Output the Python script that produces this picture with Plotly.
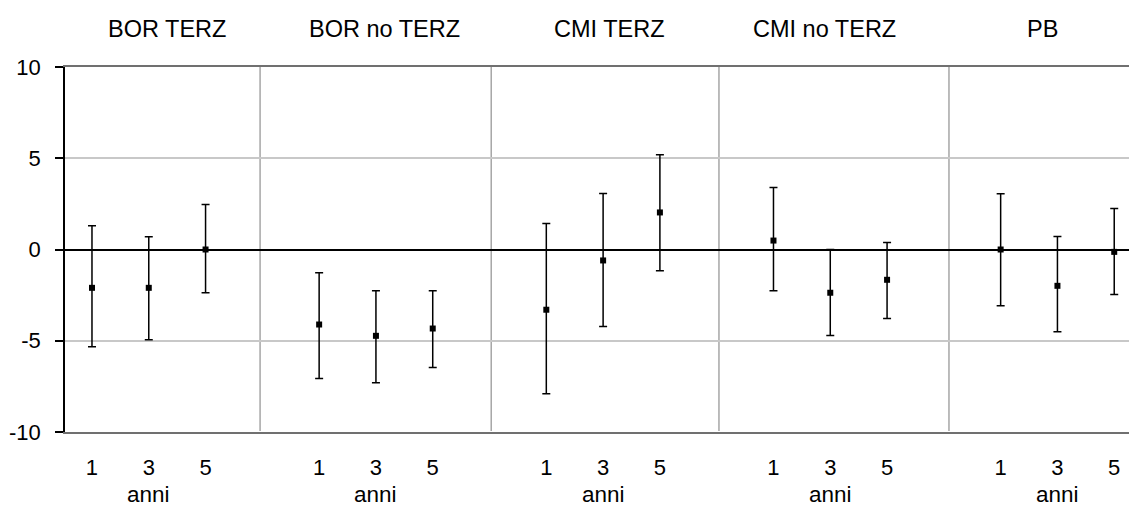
import plotly.graph_objects as go

# Groups (panels) and the horizon categories within each panel
groups = ["BOR TERZ", "BOR no TERZ", "CMI TERZ", "CMI no TERZ", "PB"]
years = ["1", "3", "5"]

# Point estimates and interval bounds, in group order, three horizons per group
means = [-2.10, -2.10, 0.00,
         -4.11, -4.73, -4.33,
         -3.30, -0.60, 2.03,
         0.49, -2.37, -1.66,
         0.00, -1.99, -0.13]
lower = [-5.33, -4.95, -2.37,
         -7.07, -7.30, -6.47,
         -7.91, -4.22, -1.17,
         -2.26, -4.71, -3.78,
         -3.08, -4.51, -2.47]
upper = [1.30, 0.70, 2.47,
         -1.28, -2.26, -2.26,
         1.42, 3.07, 5.19,
         3.40, 0.00, 0.38,
         3.05, 0.71, 2.25]

y_ticks = [-10, -5, 0, 5, 10]
y_tick_text = ["-10", "-5", "0", "5", "10"]
x_caption = "anni"

FONT = "Liberation Sans, Arial, sans-serif"
SLOTS_PER_GROUP = 4  # three horizons plus one empty gap slot

# Slot position of every point: group g, horizon j -> g*4 + j
xpos = []
tick_text = []
for g in range(len(groups)):
    for j, yr in enumerate(years):
        xpos.append(g * SLOTS_PER_GROUP + j)
        tick_text.append(yr)

err_plus = [u - m for u, m in zip(upper, means)]
err_minus = [m - l for m, l in zip(means, lower)]

fig = go.Figure()
fig.add_trace(go.Scatter(
    x=xpos, y=means, mode="markers",
    marker=dict(symbol="square", size=6, color="black"),
    error_y=dict(type="data", symmetric=False, array=err_plus,
                 arrayminus=err_minus, color="black", thickness=1.5, width=4),
    showlegend=False, cliponaxis=False,
))

# Vertical separators between the panels, inside the gap slots
sep_offsets = [-0.04, 0.03, 0.04, 0.09]
shapes = []
for g in range(len(groups) - 1):
    xs = g * SLOTS_PER_GROUP + 3 + sep_offsets[g]
    shapes.append(dict(type="line", xref="x", yref="y", x0=xs, x1=xs,
                       y0=-9.95, y1=10, line=dict(color="#a6a6a6", width=1.5),
                       layer="below"))

L, R, T, B = 65, 0, 67, 74
W, H = 1129, 506
plot_w = W - L - R

# Panel titles above the plotting area
title_px = [167, 384, 609, 824, 1042]
annotations = []
for name, px in zip(groups, title_px):
    annotations.append(dict(text=name, xref="paper", yref="paper",
                            x=(px - L) / plot_w, y=1, yshift=38,
                            xanchor="center", yanchor="middle",
                            showarrow=False,
                            font=dict(family=FONT, size=23.5, color="black")))

# Axis caption under the middle horizon of each panel
for g in range(len(groups)):
    annotations.append(dict(text=x_caption, xref="x", yref="paper",
                            x=g * SLOTS_PER_GROUP + 1, y=0, yshift=-62,
                            xanchor="center", yanchor="middle",
                            showarrow=False, borderpad=0,
                            font=dict(family=FONT, size=22.5, color="black")))

fig.update_layout(
    width=W, height=H,
    margin=dict(l=L, r=R, t=T, b=B, pad=0),
    paper_bgcolor="white", plot_bgcolor="white",
    font=dict(family=FONT, size=22, color="black"),
    shapes=shapes, annotations=annotations,
    xaxis=dict(range=[-0.475, 18.26], tickmode="array", tickvals=xpos,
               ticktext=tick_text, ticks="", showgrid=False, zeroline=False,
               showline=True, linecolor="#707070", linewidth=1.5, mirror=True,
               ticklabelstandoff=15,
               tickfont=dict(family=FONT, size=22, color="black")),
    yaxis=dict(range=[-10, 10], tickmode="array", tickvals=y_ticks,
               ticktext=y_tick_text,
               ticks="outside", ticklen=8, tickcolor="black", tickwidth=1.5,
               showline=True, linecolor="black", linewidth=1.5,
               showgrid=True, gridcolor="#c8c8c8", gridwidth=1.5,
               zeroline=True, zerolinecolor="black", zerolinewidth=2,
               ticklabelstandoff=10,
               tickfont=dict(family=FONT, size=22, color="black")),
)

fig.write_html("out.html")
